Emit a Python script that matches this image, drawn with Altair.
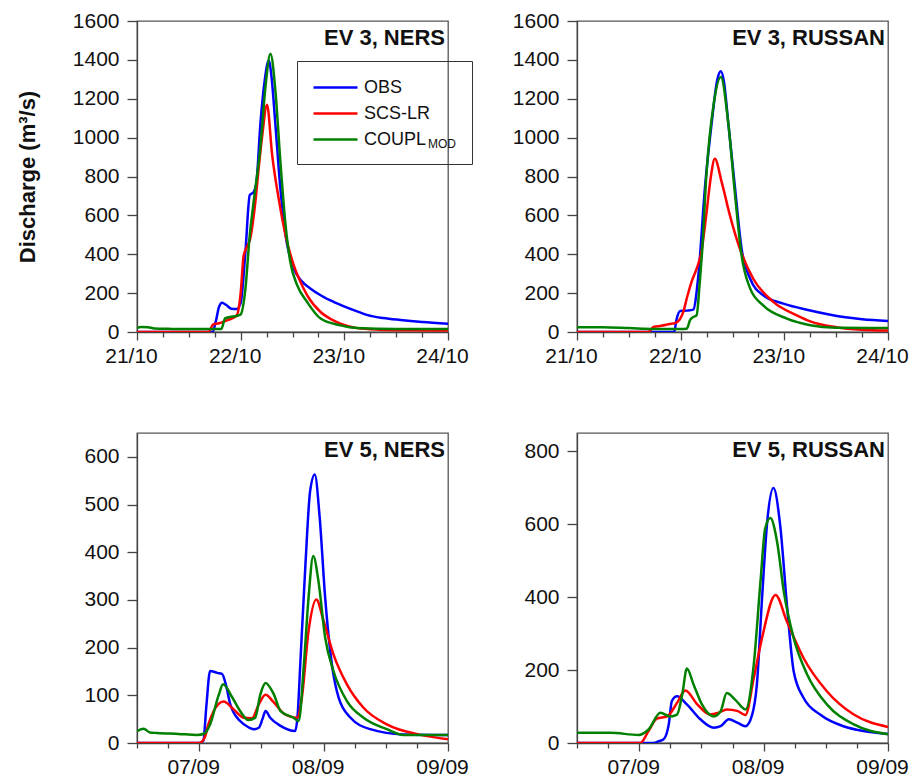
import altair as alt
import pandas as pd

FONT = "Liberation Sans"
SERIES = ["OBS", "SCS-LR", "COUPL"]
COLORS = ["#0000FF", "#FF0000", "#008000"]

# ---------------- EV 3 (hours since 21/10 00:00) ----------------
ev3_x_ticks = [0, 6, 12, 18, 24, 30, 36, 42, 48, 54, 60, 66, 72]
ev3_x_labels = ["21/10", "22/10", "23/10", "24/10"]
ev3_y_ticks = [0, 200, 400, 600, 800, 1000, 1200, 1400, 1600]

ners3_obs_h = [0, 17.5, 18.3, 19.0, 19.7, 20.6, 21.8, 23.1, 24.0, 25.1, 26.1, 27.0, 27.6, 28.6, 29.6, 30.5, 31.2, 32.0, 33.2, 34.4, 36.3, 38.0, 40.2, 42.8, 45.6, 51.0, 53.4, 57.0, 61.0, 66.0, 72.0]
ners3_obs_q = [0, 0, 60, 130, 150, 140, 120, 118, 150, 411, 704, 720, 760, 1080, 1300, 1397, 1300, 1080, 737, 497, 326, 265, 223, 185, 154, 106, 87, 72, 62, 52, 43]
ners3_scs_h = [0, 16.5, 17.7, 19.0, 20.8, 22.0, 23.1, 24.0, 24.7, 25.5, 26.2, 27.4, 28.2, 29.0, 30.1, 31.3, 32.8, 34.4, 36.3, 37.8, 39.4, 42.5, 45.0, 47.1, 51.0, 56.0, 62.0, 72.0]
ners3_scs_q = [0, 0, 40, 45, 60, 70, 86, 200, 394, 440, 480, 669, 850, 1012, 1169, 909, 686, 497, 343, 260, 189, 103, 65, 43, 20, 12, 9, 8]
ners3_cpl_h = [0, 1.0, 2.5, 4.0, 8.0, 14.0, 19.5, 20.4, 21.5, 23.0, 24.0, 25.1, 26.1, 27.0, 28.6, 29.7, 30.9, 32.0, 33.2, 34.4, 35.5, 37.1, 39.4, 42.5, 47.1, 51.0, 60.0, 72.0]
ners3_cpl_q = [22, 26, 25, 18, 16, 15, 15, 70, 77, 82, 90, 223, 497, 669, 960, 1252, 1432, 1252, 874, 549, 360, 240, 154, 69, 34, 20, 15, 15]

rus3_obs_h = [0, 22.5, 23.0, 23.9, 25.5, 26.9, 28.1, 29.6, 31.2, 32.5, 33.3, 34.0, 35.0, 36.6, 38.1, 40.1, 43.1, 47.8, 54.0, 61.7, 66.0, 72.0]
rus3_obs_q = [0, 0, 60, 108, 110, 115, 291, 737, 1080, 1300, 1341, 1290, 1080, 737, 429, 274, 189, 146, 111, 77, 66, 57]
rus3_scs_h = [0, 16.5, 17.7, 19.5, 20.8, 23.1, 24.6, 25.5, 26.5, 27.7, 28.8, 30.0, 31.0, 31.9, 33.5, 35.4, 37.7, 40.8, 45.5, 50.9, 54.0, 60.0, 66.0, 72.0]
rus3_scs_q = [0, 0, 26, 32, 38, 50, 103, 180, 257, 326, 411, 617, 800, 891, 771, 600, 429, 274, 154, 86, 55, 25, 12, 8]
rus3_cpl_h = [0, 6, 12, 18, 24, 25.4, 26.2, 26.9, 27.7, 28.4, 28.9, 30.0, 31.6, 33.3, 35.0, 36.6, 38.1, 40.1, 43.1, 48.6, 54.0, 60.0, 72.0]
rus3_cpl_q = [25, 24, 20, 16, 15, 17, 62, 77, 87, 250, 394, 823, 1166, 1312, 1080, 703, 394, 223, 137, 69, 35, 22, 20]

# ---------------- EV 5 (hours since 06/09 12:00) ----------------
ev5_x_ticks = [0, 6, 12, 18, 24, 30, 36, 42, 48, 54, 60]
ev5_x_labels = ["07/09", "08/09", "09/09"]
ev5_ners_y_ticks = [0, 100, 200, 300, 400, 500, 600]
ev5_rus_y_ticks = [0, 200, 400, 600, 800]

ners5_obs_h = [0, 12.0, 12.8, 13.4, 14.1, 15.5, 16.4, 17.2, 18.0, 19.9, 21.5, 22.5, 23.5, 24.2, 24.8, 25.7, 27.7, 30.5, 31.0, 31.5, 32.5, 33.4, 34.3, 35.2, 36.3, 37.6, 38.9, 41.2, 45.0, 51.4, 60.0]
ners5_obs_q = [0, 0, 5, 80, 151, 147, 145, 120, 81, 46, 33, 29, 32, 50, 67, 53, 36, 25, 60, 165, 375, 528, 563, 479, 305, 165, 95, 53, 29, 18, 17]
ners5_scs_h = [0, 12.0, 13.0, 13.8, 14.8, 16.7, 18.6, 20.6, 22.2, 23.5, 24.8, 26.4, 28.3, 30.9, 31.8, 33.1, 34.6, 36.0, 37.9, 40.5, 43.7, 48.2, 54.7, 60.0]
ners5_scs_q = [0, 0, 10, 40, 67, 87, 71, 53, 52, 81, 101, 85, 62, 53, 95, 235, 301, 256, 186, 123, 74, 39, 17, 8]
ners5_cpl_h = [0, 1.3, 2.5, 3.9, 8.0, 11.6, 13.0, 14.1, 15.8, 16.6, 18.3, 19.9, 21.5, 22.8, 23.8, 24.8, 26.4, 27.7, 30.2, 31.2, 32.2, 33.1, 34.0, 35.0, 36.3, 37.9, 40.5, 43.7, 48.2, 51.4, 60.0]
ners5_cpl_q = [25, 30, 22, 21, 19, 17, 20, 39, 102, 123, 97, 67, 48, 53, 102, 126, 102, 67, 53, 46, 165, 305, 392, 340, 221, 151, 88, 53, 29, 17, 17]

rus5_obs_h = [0, 14.8, 15.8, 16.7, 17.7, 18.3, 19.3, 21.2, 23.8, 26.4, 27.7, 29.3, 30.9, 32.5, 33.8, 34.7, 35.7, 36.7, 37.9, 39.2, 40.5, 41.8, 43.7, 46.9, 51.4, 60.0]
rus5_obs_q = [0, 0, 5, 10, 51, 115, 128, 106, 65, 42, 46, 65, 56, 46, 78, 160, 397, 607, 699, 597, 379, 197, 124, 78, 46, 25]
rus5_scs_h = [0, 12.2, 13.8, 15.4, 17.4, 19.3, 20.9, 23.2, 25.7, 27.3, 28.9, 30.9, 32.5, 34.1, 35.7, 38.3, 40.5, 43.7, 48.2, 53.4, 60.0]
rus5_scs_q = [0, 0, 33, 67, 73, 110, 144, 106, 78, 83, 92, 88, 77, 178, 288, 406, 333, 233, 142, 78, 44]
rus5_cpl_h = [0, 6.4, 11.9, 13.8, 16.1, 18.0, 19.3, 20.3, 21.2, 22.5, 24.1, 26.4, 27.7, 28.9, 30.5, 32.5, 34.1, 35.4, 36.3, 37.3, 38.6, 39.9, 41.8, 44.4, 48.2, 53.4, 60.0]
rus5_cpl_q = [28, 28, 22, 37, 83, 73, 78, 133, 204, 160, 106, 73, 87, 137, 119, 92, 215, 443, 588, 617, 552, 415, 288, 188, 106, 51, 24]

W = 311


def frame(pairs):
    rows = []
    for name, hs, qs in pairs:
        for h, q in zip(hs, qs):
            rows.append({"h": h, "q": q, "series": name})
    return pd.DataFrame(rows)


def panel(pairs, height, xmax, xticks, xlabels, first_day, ymax, yticks, label,
          ytitle=None, legend=None):
    df = frame(pairs)
    lab_arr = "[" + ",".join("'%s'" % s for s in xlabels) + "]"
    major = "(datum.value - %d) %% 24 == 0" % first_day
    x_axis = alt.Axis(
        values=xticks,
        labelExpr="%s ? %s[(datum.value - %d) / 24] : ''" % (major, lab_arr, first_day),
        tickSize={"condition": {"test": major, "value": 8}, "value": 5},
        title=None, grid=False, labelFlush=False, labelOverlap=False,
        labelOffset=-6, labelPadding=5,
    )
    y_kwargs = dict(values=yticks, grid=False, tickSize=10, labelPadding=8, format="d")
    if ytitle is not None:
        y_kwargs.update(title=ytitle, titleFontSize=22, titleFontWeight="bold",
                        titleFont=FONT, titleColor="#111", titlePadding=33)
    else:
        y_kwargs.update(title=None)
    lines = alt.Chart(df).mark_line(strokeWidth=2.5, interpolate="monotone", clip=True).encode(
        x=alt.X("h:Q", scale=alt.Scale(domain=[0, xmax], nice=False, zero=False), axis=x_axis),
        y=alt.Y("q:Q", scale=alt.Scale(domain=[0, ymax], nice=False), axis=alt.Axis(**y_kwargs)),
        color=alt.Color("series:N", sort=SERIES,
                        scale=alt.Scale(domain=SERIES, range=COLORS),
                        legend=legend),
    )
    txt = alt.Chart(pd.DataFrame({"label": [label]})).mark_text(
        align="right", baseline="alphabetic", fontSize=22, fontWeight="bold", font=FONT, color="#111"
    ).encode(x=alt.value(W - 3), y=alt.value(24), text="label:N")
    return alt.layer(lines, txt).properties(width=W, height=height)


PAD = "\u00a0" * 6 + "\u200b"
legend = alt.Legend(
    orient="none", legendX=160, legendY=40, title=None,
    symbolType="M-1,0L3.4,0", symbolSize=400, symbolStrokeWidth=2.5,
    labelFontSize=18, labelFont=FONT, labelColor="#111",
    labelOffset=29, padding=15, rowPadding=5,
    strokeColor="#333",
    labelExpr="datum.label == 'COUPL' ? 'COUPL%s' : datum.label" % PAD,
)

p1 = panel([("OBS", ners3_obs_h, ners3_obs_q), ("SCS-LR", ners3_scs_h, ners3_scs_q), ("COUPL", ners3_cpl_h, ners3_cpl_q)],
           311, 72, ev3_x_ticks, ev3_x_labels, 0, 1600, ev3_y_ticks, "EV 3, NERS",
           ytitle="Discharge (m³/s)", legend=legend)
sub = alt.Chart(pd.DataFrame({"t": ["MOD"]})).mark_text(
    align="left", baseline="alphabetic", fontSize=12, font=FONT, color="#111"
).encode(x=alt.value(291), y=alt.value(127), text="t:N")
p1 = alt.layer(p1, sub)

p2 = panel([("OBS", rus3_obs_h, rus3_obs_q), ("SCS-LR", rus3_scs_h, rus3_scs_q), ("COUPL", rus3_cpl_h, rus3_cpl_q)],
           311, 72, ev3_x_ticks, ev3_x_labels, 0, 1600, ev3_y_ticks, "EV 3, RUSSAN", legend=None)
p3 = panel([("OBS", ners5_obs_h, ners5_obs_q), ("SCS-LR", ners5_scs_h, ners5_scs_q), ("COUPL", ners5_cpl_h, ners5_cpl_q)],
           310, 60, ev5_x_ticks, ev5_x_labels, 12, 650, ev5_ners_y_ticks, "EV 5, NERS", legend=None)
p4 = panel([("OBS", rus5_obs_h, rus5_obs_q), ("SCS-LR", rus5_scs_h, rus5_scs_q), ("COUPL", rus5_cpl_h, rus5_cpl_q)],
           310, 60, ev5_x_ticks, ev5_x_labels, 12, 850, ev5_rus_y_ticks, "EV 5, RUSSAN", legend=None)

chart = alt.concat(p1, p2, p3, p4, columns=2, spacing={"row": 65, "column": 37}).resolve_legend(
    color="independent"
).properties(
    padding={"left": 15, "top": 9, "right": 0, "bottom": 0},
    background="white",
).configure_view(
    stroke="#555", strokeWidth=1.3
).configure_axis(
    labelFont=FONT, labelFontSize=21, labelColor="#111",
    tickColor="#444", tickWidth=1.3, domainColor="#444", domainWidth=1.3,
)

chart.save("out.html", embed_options={"renderer": "svg", "actions": False})
